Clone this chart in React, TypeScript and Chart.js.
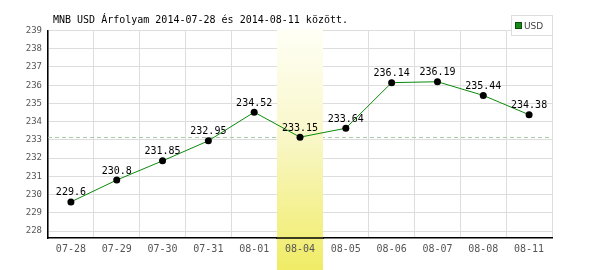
import React, { useEffect, useRef } from "react";
import Chart from "chart.js/auto";

const categories = ["07-28", "07-29", "07-30", "07-31", "08-01", "08-04", "08-05", "08-06", "08-07", "08-08", "08-11"];
const usdValues = [229.6, 230.8, 231.85, 232.95, 234.52, 233.15, 233.64, 236.14, 236.19, 235.44, 234.38];
const valueLabels = ["229.6", "230.8", "231.85", "232.95", "234.52", "233.15", "233.64", "236.14", "236.19", "235.44", "234.38"];
const yTicks = [228, 229, 230, 231, 232, 233, 234, 235, 236, 237, 238, 239];
const highlightIndex = 5;
const referenceValue = 233.15;
const titleText = "MNB USD Árfolyam 2014-07-28 és 2014-08-11 között.";
const seriesName = "USD";

const MONO = '"DejaVu Sans Mono", monospace';

export default function App() {
  const ref = useRef<HTMLCanvasElement | null>(null);
  useEffect(() => {
    document.body.style.margin = "0";
    const canvas = ref.current!;
    const plugin = {
      id: "custom",
      beforeDatasetsDraw(chart: any) {
        const ctx = chart.ctx;
        const area = chart.chartArea;
        const x = chart.scales.x;
        const y = chart.scales.y;
        // dashed reference line
        const ry = Math.round(y.getPixelForValue(referenceValue)) + 0.5;
        ctx.save();
        ctx.strokeStyle = "#a8cca8";
        ctx.lineWidth = 1;
        ctx.setLineDash([4, 3]);
        ctx.beginPath();
        ctx.moveTo(area.left, ry);
        ctx.lineTo(area.right, ry);
        ctx.stroke();
        ctx.restore();
        // highlight band
        const cx = x.getPixelForValue(highlightIndex);
        const w = (area.right - area.left) / categories.length;
        const left = Math.round(cx - w / 2);
        const right = Math.round(cx + w / 2);
        const top = 29;
        const bottom = chart.height;
        const g = ctx.createLinearGradient(0, top, 0, bottom);
        g.addColorStop(0, "#fffff6");
        g.addColorStop(0.45, "#f9f7c8");
        g.addColorStop(1, "#f0ec66");
        ctx.save();
        ctx.fillStyle = g;
        ctx.fillRect(left, top, right - left, bottom - top);
        // x axis line over band
        ctx.strokeStyle = "#000";
        ctx.lineWidth = 1.5;
        ctx.beginPath();
        ctx.moveTo(left - 1, area.bottom);
        ctx.lineTo(right + 1, area.bottom);
        ctx.stroke();
        ctx.restore();
      },
      afterDatasetsDraw(chart: any) {
        const ctx = chart.ctx;
        const meta = chart.getDatasetMeta(0);
        ctx.save();
        ctx.font = "10px " + MONO;
        ctx.fillStyle = "#000";
        ctx.textAlign = "center";
        ctx.textBaseline = "alphabetic";
        meta.data.forEach((pt: any, i: number) => {
          ctx.fillText(valueLabels[i], pt.x, pt.y - 6.5);
        });
        ctx.restore();
      },
      afterDraw(chart: any) {
        const ctx = chart.ctx;
        ctx.save();
        // title
        ctx.font = "10px " + MONO;
        ctx.fillStyle = "#000";
        ctx.textAlign = "left";
        ctx.textBaseline = "alphabetic";
        ctx.fillText(titleText, 53, 23);
        // legend
        ctx.fillStyle = "#fff";
        ctx.fillRect(511, 15, 41, 20);
        ctx.strokeStyle = "#dddddd";
        ctx.lineWidth = 1;
        ctx.strokeRect(511.5, 15.5, 41, 20);
        ctx.fillStyle = "#158a15";
        ctx.fillRect(515, 22, 7, 7);
        ctx.strokeStyle = "#0b4d0b";
        ctx.strokeRect(515.5, 22.5, 6, 6);
        ctx.font = '9px "DejaVu Sans", sans-serif';
        ctx.fillStyle = "#444";
        ctx.fillText(seriesName, 524, 29);
        ctx.restore();
      },
    };
    const chart = new Chart(canvas, {
      type: "line",
      data: {
        labels: categories,
        datasets: [
          {
            label: seriesName,
            data: usdValues,
            borderColor: "#0a8a0a",
            borderWidth: 1,
            pointBackgroundColor: "#000",
            pointBorderColor: "#000",
            pointRadius: 3.5,
            pointBorderWidth: 0,
            tension: 0,
          },
        ],
      },
      options: {
        responsive: false,
        animation: false,
        events: [],
        layout: { padding: { top: 30.5, right: 48, left: 0, bottom: 0 } },
        plugins: { legend: { display: false }, title: { display: false }, tooltip: { enabled: false } },
        scales: {
          x: {
            type: "category",
            offset: true,
            grid: { offset: true, color: "#dddddd", drawTicks: false },
            border: { color: "#000", width: 1.5 },
            ticks: { z: 1, color: "#555", font: { family: MONO, size: 10 }, padding: 5, maxRotation: 0, autoSkip: false },
            afterFit(s: any) { s.height = 270 - 238; },
          },
          y: {
            min: 227.62,
            max: 239,
            grid: { color: "#dddddd", drawTicks: false },
            border: { color: "#000", width: 1.5 },
            ticks: { color: "#555", font: { family: MONO, size: 9 }, padding: 6 },
            afterBuildTicks(s: any) { s.ticks = yTicks.map((v) => ({ value: v })); },
            afterFit(s: any) { s.width = 48; },
          },
        },
      },
      plugins: [plugin],
    });
    return () => chart.destroy();
  }, []);
  return (
    <div style={{ position: "absolute", left: 0, top: 0, width: 600, height: 270, background: "#fff" }}>
      <canvas ref={ref} width={600} height={270} />
    </div>
  );
}
